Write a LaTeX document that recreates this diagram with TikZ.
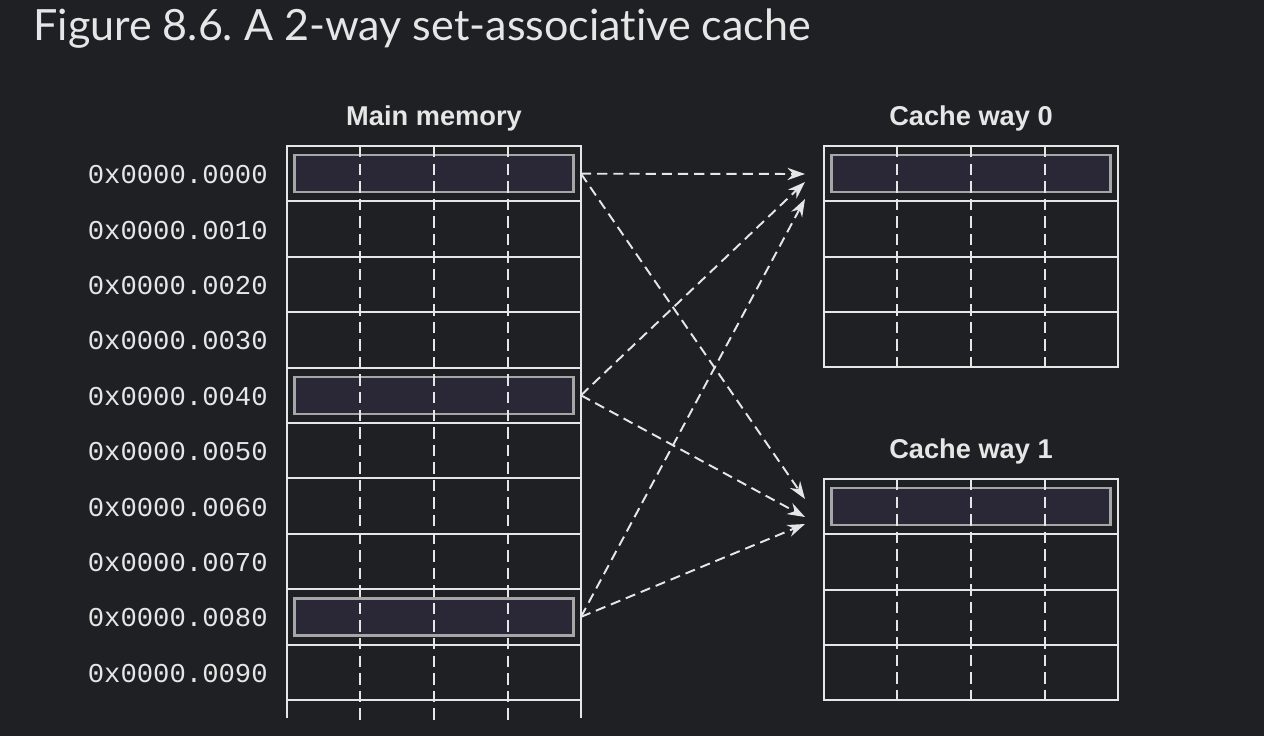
\documentclass[tikz,border=0pt]{standalone}
\usepackage{fontspec}
\setmainfont{Liberation Sans}
\setmonofont{Liberation Mono}
\newfontfamily\titlefont{Lato}[Ligatures=NoCommon]
\usetikzlibrary{arrows.meta,positioning,calc}
\definecolor{bg}{HTML}{1F2023}
\definecolor{ink}{HTML}{E6E6E6}
\definecolor{slotfill}{HTML}{2A2736}
\definecolor{slotedge}{HTML}{A6A6A6}
\frenchspacing

\begin{document}
\begin{tikzpicture}[x=0.02cm,y=-0.02cm,>=Stealth,
  cell/.style={draw=ink,line width=1.1pt,minimum width=5.88cm,minimum height=1.108cm,inner sep=0pt,outer sep=0pt},
  slot/.style={draw=slotedge,fill=slotfill,line width=1.4pt,minimum width=5.58cm,minimum height=0.74cm,inner sep=0pt},
  col/.style={ink,line width=1.1pt,dash pattern=on 6.5pt off 3.5pt},
  link/.style={ink,line width=1.1pt,dash pattern=on 5.8pt off 3.4pt,-{Stealth[length=10pt,width=7pt]}},
  head/.style={font=\bfseries\fontsize{15.5}{18}\selectfont,text=ink},
  addr/.style={font=\ttfamily\fontsize{15.5}{18}\selectfont,text=ink,anchor=east,inner sep=0pt}]
 \fill[bg] (0,0) rectangle (1264,736);
 \node[anchor=base west,inner sep=0pt,text=ink,font=\titlefont\fontsize{24.5}{29}\selectfont] (title) at (33,41) {Figure 8.6. A 2-way set-associative cache};
 % main memory
 \node[head] (mainhead) at (434,118) {Main memory};
 \foreach \i in {0,...,9}{
  \node[cell] (m\i) at (434,{173.7+55.4*\i}) {};
  \node[addr] (a\i) at (268,{174.7+55.4*\i}) {0x0000.00\i0};}
 \draw[ink,line width=1.1pt] (m9.south west) -- ++(0,18) (m9.south east) -- ++(0,18);
 \foreach \i in {0,4,8} \node[slot] (s\i) at (m\i) {};
 \foreach \x in {360,434,508} \draw[col] (\x,146) -- (\x,720);
 % cache ways
 \foreach \w/\top in {0/146,1/479}{
  \node[head] (head\w) at (971,{\top-28}) {Cache way \w};
  \foreach \r in {0,...,3} \node[cell] (c\w\r) at (971,{\top+27.6+55.3*\r}) {};
  \node[slot] (t\w) at (c\w0) {};
  \foreach \x in {897,971,1045} \draw[col] (\x,\top) -- (\x,{\top+221});}
 % arrow targets
 \coordinate (w0a) at (805,174);
 \coordinate (w0b) at (805,182);
 \coordinate (w0c) at (805,199);
 \coordinate (w1a) at (805,499);
 \coordinate (w1b) at (805,517);
 \coordinate (w1c) at (805,524);
 \draw[link] (m0.east) -- (w0a);
 \draw[link] (m0.east) -- (w1a);
 \draw[link] (m4.east) -- (w0b);
 \draw[link] (m4.east) -- (w1b);
 \draw[link] (m8.east) -- (w0c);
 \draw[link] (m8.east) -- (w1c);
\end{tikzpicture}
\end{document}
